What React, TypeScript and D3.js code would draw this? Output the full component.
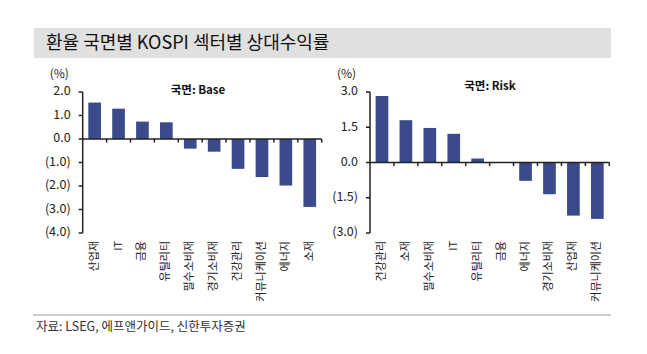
import * as d3 from 'd3';

const TITLE = '환율 국면별 KOSPI 섹터별 상대수익률';
const SOURCE = '자료: LSEG, 에프앤가이드, 신한투자증권';

const baseCategories = ['산업재', 'IT', '금융', '유틸리티', '필수소비재', '경기소비재', '건강관리', '커뮤니케이션', '에너지', '소재'];
const baseValues = [1.55, 1.29, 0.74, 0.71, -0.41, -0.54, -1.27, -1.62, -1.98, -2.89];
const baseTicks = [2, 1, 0, -1, -2, -3, -4];

const riskCategories = ['건강관리', '소재', '필수소비재', 'IT', '유틸리티', '금융', '에너지', '경기소비재', '산업재', '커뮤니케이션'];
const riskValues = [2.83, 1.8, 1.47, 1.22, 0.17, 0.02, -0.78, -1.35, -2.26, -2.4];
const riskTicks = [3, 1.5, 0, -1.5, -3];

const FONT = '"Noto Sans CJK KR", "Noto Sans", sans-serif';
const BAR = '#3b4a8b';
const AXIS = '#222';

const fmt = (v: number) => (v < 0 ? `(${Math.abs(v).toFixed(1)})` : v.toFixed(1));

interface PanelProps {
  categories: string[];
  values: number[];
  ticks: number[];
  label: string;
  x0: number;
  x1: number;
  labelX: number;
  labelY: number;
}

function Panel({ categories, values, ticks, label, x0, x1, labelX, labelY }: PanelProps) {
  const yTop = 92;
  const yBottom = 233;
  const x = d3.scaleBand<string>().domain(categories).range([x0, x1]).paddingInner(0.47).paddingOuter(0.235);
  const band = d3.scaleBand<string>().domain(categories).range([x0, x1]);
  const y = d3.scaleLinear().domain([d3.min(ticks)!, d3.max(ticks)!]).range([yBottom, yTop]);
  const zero = y(0);

  return (
    <g fontFamily={FONT}>
      <text x={x0 - 33} y={75} fontSize={12} fill="#222" textAnchor="start" dominantBaseline="middle">(%)</text>
      <text x={labelX} y={labelY} fontSize={11.5} fontWeight={700} fill="#111" textAnchor="middle" dominantBaseline="middle">
        {label}
      </text>
      {values.map((v, i) => (
        <rect
          key={categories[i]}
          x={x(categories[i])}
          width={x.bandwidth()}
          y={Math.min(y(v), zero)}
          height={Math.abs(y(v) - zero)}
          fill={BAR}
        />
      ))}
      <line x1={x0} x2={x0} y1={yTop} y2={yBottom} stroke={AXIS} strokeWidth={1.5} />
      {ticks.map((t) => (
        <g key={t}>
          <line x1={x0 - 4} x2={x0} y1={y(t)} y2={y(t)} stroke={AXIS} strokeWidth={1.5} />
          <text x={x0 - 12} y={y(t)} fontSize={12.5} fill="#222" textAnchor="end" dominantBaseline="middle">
            {fmt(t)}
          </text>
        </g>
      ))}
      <line x1={x0} x2={x1} y1={zero} y2={zero} stroke={AXIS} strokeWidth={1.5} />
      {categories.map((c) => (
        <line key={c} x1={band(c)! + band.bandwidth()} x2={band(c)! + band.bandwidth()} y1={zero} y2={zero + 3.5} stroke={AXIS} strokeWidth={1.5} />
      ))}
      {categories.map((c) => {
        const cx = band(c)! + band.bandwidth() / 2;
        return (
          <text
            key={c}
            transform={`translate(${cx},241) rotate(-90)`}
            fontSize={11}
            fill="#222"
            textAnchor="end"
            dominantBaseline="middle"
          >
            {c}
          </text>
        );
      })}
    </g>
  );
}

export default function App() {
  return (
    <svg width={647} height={354} style={{ position: 'absolute', left: 0, top: 0, background: '#fff' }}>
      <rect x={0} y={0} width={647} height={354} fill="#fff" />
      <rect x={34} y={28} width={577} height={30} fill="#e0e0e0" />
      <text x={46} y={44} fontFamily={FONT} fontSize={18} fill="#111" dominantBaseline="middle">
        {TITLE}
      </text>
      <Panel
        categories={baseCategories}
        values={baseValues}
        ticks={baseTicks}
        label="국면: Base"
        x0={82.7}
        x1={321.7}
        labelX={198}
        labelY={91}
      />
      <Panel
        categories={riskCategories}
        values={riskValues}
        ticks={riskTicks}
        label="국면: Risk"
        x0={370}
        x1={609.3}
        labelX={490}
        labelY={87}
      />
      <line x1={33} x2={611} y1={315} y2={315} stroke="#999" strokeWidth={1} />
      <text x={36} y={328} fontFamily={FONT} fontSize={12.5} fill="#333" dominantBaseline="middle">
        {SOURCE}
      </text>
    </svg>
  );
}
